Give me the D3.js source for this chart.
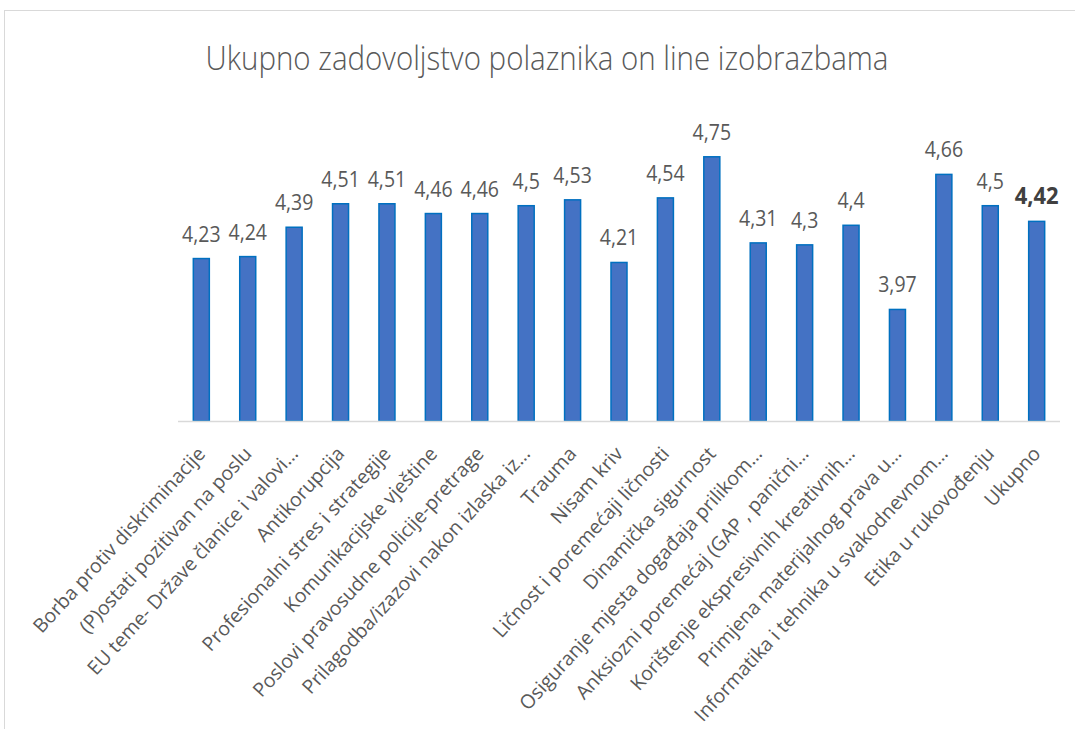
<!DOCTYPE html>
<html>
<head>
<meta charset="utf-8">
<script src="https://cdn.jsdelivr.net/npm/d3@7"></script>
<style>
  body { margin: 0; background: #fff; }
  text { font-family: "Open Sans", "Noto Sans", sans-serif; }
</style>
</head>
<body>
<div class="chart"></div>
<script>
// kategorije i vrijednosti
const categories = [
  "Borba protiv diskriminacije",
  "(P)ostati pozitivan na poslu",
  "EU teme- Države članice i valovi…",
  "Antikorupcija",
  "Profesionalni stres i strategije",
  "Komunikacijske vještine",
  "Poslovi pravosudne policije-pretrage",
  "Prilagodba/izazovi nakon izlaska iz…",
  "Trauma",
  "Nisam kriv",
  "Ličnost i poremećaji ličnosti",
  "Dinamička sigurnost",
  "Osiguranje mjesta događaja prilikom…",
  "Anksiozni poremećaj (GAP , panični…",
  "Korištenje ekspresivnih kreativnih…",
  "Primjena materijalnog prava u…",
  "Informatika i tehnika u svakodnevnom…",
  "Etika u rukovođenju",
  "Ukupno"
];
const values = [4.23, 4.24, 4.39, 4.51, 4.51, 4.46, 4.46, 4.5, 4.53, 4.21,
                4.54, 4.75, 4.31, 4.3, 4.4, 3.97, 4.66, 4.5, 4.42];
const yDomain = [3.4, 4.8];

const width = 1075, height = 729;
const plot = { left: 178, right: 1060, top: 147, bottom: 421 };

const svg = d3.select(".chart").append("svg")
  .attr("width", width)
  .attr("height", height);

// okvir
svg.append("rect")
  .attr("x", 4.5).attr("y", 10.5)
  .attr("width", 1100).attr("height", 800)
  .attr("fill", "#fff")
  .attr("stroke", "#d9d9d9");

// naslov (malo izduzen okomito, kao Calibri Light)
svg.append("text")
  .attr("transform", "translate(547, 70) scale(1, 1.15)")
  .attr("text-anchor", "middle")
  .attr("fill", "#595959")
  .style("font-size", "29.5px")
  .style("font-weight", 300)
  .text("Ukupno zadovoljstvo polaznika on line izobrazbama");

const x = d3.scaleBand()
  .domain(categories)
  .range([plot.left, plot.right])
  .paddingInner(0.655)
  .paddingOuter(0.33);

const y = d3.scaleLinear()
  .domain(yDomain)
  .range([plot.bottom, plot.top]);

const data = categories.map((c, i) => ({ label: c, value: values[i] }));
const fmt = v => String(v).replace(".", ",");
const last = data.length - 1;

// stupci
svg.selectAll("rect.bar")
  .data(data)
  .enter()
  .append("rect")
  .attr("class", "bar")
  .attr("x", d => x(d.label))
  .attr("y", d => y(d.value))
  .attr("width", x.bandwidth())
  .attr("height", d => y(yDomain[0]) - y(d.value))
  .attr("fill", "#4472c4")
  .attr("stroke", "#0070c0")
  .attr("stroke-width", 1.5);

// os
svg.append("line")
  .attr("x1", plot.left).attr("x2", plot.right)
  .attr("y1", plot.bottom + 0.5).attr("y2", plot.bottom + 0.5)
  .attr("stroke", "#d9d9d9")
  .attr("stroke-width", 1.5);

// oznake vrijednosti
svg.selectAll("text.val")
  .data(data)
  .enter()
  .append("text")
  .attr("class", "val")
  .attr("transform", d => `translate(${x(d.label) + x.bandwidth() / 2}, ${y(d.value) - 17}) scale(1, 1.08)`)
  .attr("text-anchor", "middle")
  .attr("fill", (d, i) => i === last ? "#404040" : "#595959")
  .style("font-size", (d, i) => i === last ? "22px" : "19.5px")
  .style("font-weight", (d, i) => i === last ? "bold" : "normal")
  .text(d => fmt(d.value));

// oznake kategorija
svg.selectAll("text.cat")
  .data(data)
  .enter()
  .append("text")
  .attr("class", "cat")
  .attr("transform", d => {
    const cx = x(d.label) + x.bandwidth() / 2;
    return `translate(${cx}, ${plot.bottom + 29}) rotate(-47.5)`;
  })
  .attr("text-anchor", "end")
  .attr("dy", "0.35em")
  .attr("fill", "#595959")
  .style("font-size", "19.5px")
  .text(d => d.label);
</script>
</body>
</html>
